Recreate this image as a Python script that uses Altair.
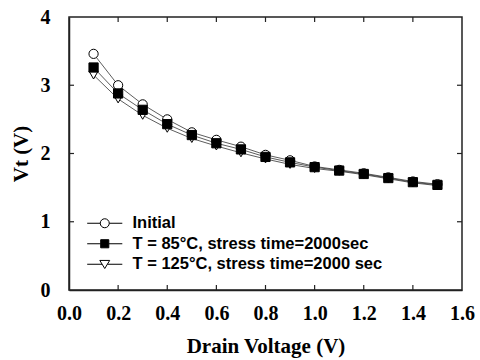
import altair as alt
import pandas as pd

# Drain voltage sweep (V)
drain_v = [0.1, 0.2, 0.3, 0.4, 0.5, 0.6, 0.7, 0.8, 0.9, 1.0, 1.1, 1.2, 1.3, 1.4, 1.5]

# Threshold voltage Vt (V) for each condition
vt_initial = [3.46, 3.00, 2.72, 2.50, 2.31, 2.20, 2.10, 1.98, 1.90, 1.81, 1.76, 1.71, 1.65, 1.59, 1.55]
vt_85c = [3.26, 2.88, 2.64, 2.43, 2.27, 2.15, 2.06, 1.95, 1.87, 1.80, 1.75, 1.70, 1.64, 1.58, 1.54]
vt_125c = [3.15, 2.80, 2.56, 2.37, 2.22, 2.11, 2.01, 1.92, 1.84, 1.78, 1.74, 1.69, 1.63, 1.57, 1.53]

series_names = [
    "Initial",
    "T = 85°C, stress time=2000sec",
    "T = 125°C, stress time=2000 sec",
]

x_tick_values = [0.0, 0.2, 0.4, 0.6, 0.8, 1.0, 1.2, 1.4, 1.6]
y_tick_values = [0, 1, 2, 3, 4]

rows = []
for name, vals in zip(series_names, [vt_initial, vt_85c, vt_125c]):
    for xv, yv in zip(drain_v, vals):
        rows.append({"series": name, "vd": xv, "vt": yv})
df = pd.DataFrame(rows)

W, H = 393, 273
serif = "Liberation Serif"
sans = "Liberation Sans"
ink = "#222222"

x_scale = alt.Scale(domain=[0, 1.6], nice=False, zero=False)
y_scale = alt.Scale(domain=[0, 4], nice=False)

x_enc = alt.X(
    "vd:Q", scale=x_scale,
    axis=alt.Axis(
        title="Drain Voltage (V)", values=x_tick_values, format=".1f",
        ticks=False, grid=False, labelFlush=False, labelPadding=13, titlePadding=12,
    ),
)
y_enc = alt.Y(
    "vt:Q", scale=y_scale,
    axis=alt.Axis(
        title="Vt (V)", values=y_tick_values, format="d",
        ticks=False, grid=False, labelFlush=False, labelPadding=19, titlePadding=9,
    ),
)

base = alt.Chart(df)

lines = base.mark_line(color="#333333", strokeWidth=0.8).encode(
    x=x_enc, y=y_enc, detail="series:N"
)

fills = ["white", "black", "white"]

# plotted markers: hollow circle, filled square, hollow down-triangle
marker_order = ["Initial", "T = 125°C, stress time=2000 sec", "T = 85°C, stress time=2000sec"]
points = base.mark_point(filled=True, stroke="black", strokeWidth=1, size=85, opacity=1).encode(
    x=x_enc, y=y_enc,
    shape=alt.Shape("series:N", scale=alt.Scale(domain=series_names,
                    range=["circle", "square", "triangle-down"]), legend=None),
    fill=alt.Fill("series:N", scale=alt.Scale(domain=series_names, range=fills), legend=None),
    order=alt.Order("rank:Q"),
).transform_calculate(
    rank="indexof(" + str(marker_order) + ", datum.series)"
)

# legend symbols: marker with a short line through it
legend_paths = [
    "M-3.9,0H-1M1,0H3.9M-1,0A1,1 0 1,1 1,0A1,1 0 1,1 -1,0Z",
    "M-3.9,0H-0.9M0.9,0H3.9M-0.9,-0.9H0.9V0.9H-0.9Z",
    "M-3.9,0H-0.6M0.6,0H3.9M-1.1,-0.85L1.1,-0.85L0,0.95Z",
]
legend_layer = base.transform_filter("false").mark_point(
    filled=True, strokeWidth=1
).encode(
    x=x_enc, y=y_enc,
    shape=alt.Shape("series:N", scale=alt.Scale(domain=series_names, range=legend_paths),
                    legend=alt.Legend(title=None)),
    fill=alt.Fill("series:N", scale=alt.Scale(domain=series_names, range=fills),
                  legend=alt.Legend(title=None)),
    stroke=alt.Stroke("series:N", scale=alt.Scale(domain=series_names,
                      range=["black", "black", "black"]),
                      legend=alt.Legend(title=None)),
)

# frame around the plot area
frame = alt.Chart(pd.DataFrame({"k": [0]})).mark_rect(
    fill=None, stroke=ink, strokeWidth=1.5
).encode(x=alt.value(0), x2=alt.value(W), y=alt.value(0), y2=alt.value(H))

# inward tick marks on all four sides
xt = pd.DataFrame({"t": x_tick_values[1:-1]})
yt = pd.DataFrame({"t": y_tick_values[1:-1]})
tick_style = dict(color=ink, strokeWidth=1.2)
bottom_ticks = alt.Chart(xt).mark_rule(**tick_style).encode(
    x=alt.X("t:Q", scale=x_scale), y=alt.value(H), y2=alt.value(H - 5))
top_ticks = alt.Chart(xt).mark_rule(**tick_style).encode(
    x=alt.X("t:Q", scale=x_scale), y=alt.value(0), y2=alt.value(5))
left_ticks = alt.Chart(yt).mark_rule(**tick_style).encode(
    y=alt.Y("t:Q", scale=y_scale), x=alt.value(0), x2=alt.value(5))
right_ticks = alt.Chart(yt).mark_rule(**tick_style).encode(
    y=alt.Y("t:Q", scale=y_scale), x=alt.value(W), x2=alt.value(W - 5))

chart = alt.layer(
    frame, bottom_ticks, top_ticks, left_ticks, right_ticks, lines, points, legend_layer
).resolve_scale(
    shape="independent", fill="independent", stroke="independent"
).properties(
    width=W, height=H,
    autosize=alt.AutoSizeParams(type="none"),
    padding={"left": 69, "top": 17, "right": 18, "bottom": 70},
    background="white",
).configure_view(
    strokeWidth=0
).configure_axis(
    domainColor=ink, domainWidth=1.5,
    labelFont=serif, labelFontSize=20, labelFontWeight="bold", labelColor="black",
    titleFont=serif, titleFontSize=21, titleFontWeight="bold", titleColor="black",
).configure_legend(
    orient="none", legendX=27.5, legendY=198, padding=0,
    labelFont=sans, labelFontSize=16.5, labelFontWeight="bold", labelColor="black",
    labelOffset=19.5, symbolSize=81, symbolStrokeWidth=1,
    symbolOpacity=1, rowPadding=3.5, labelLimit=400,
)

chart.save("out.html", embed_options={"renderer": "svg", "actions": False})
